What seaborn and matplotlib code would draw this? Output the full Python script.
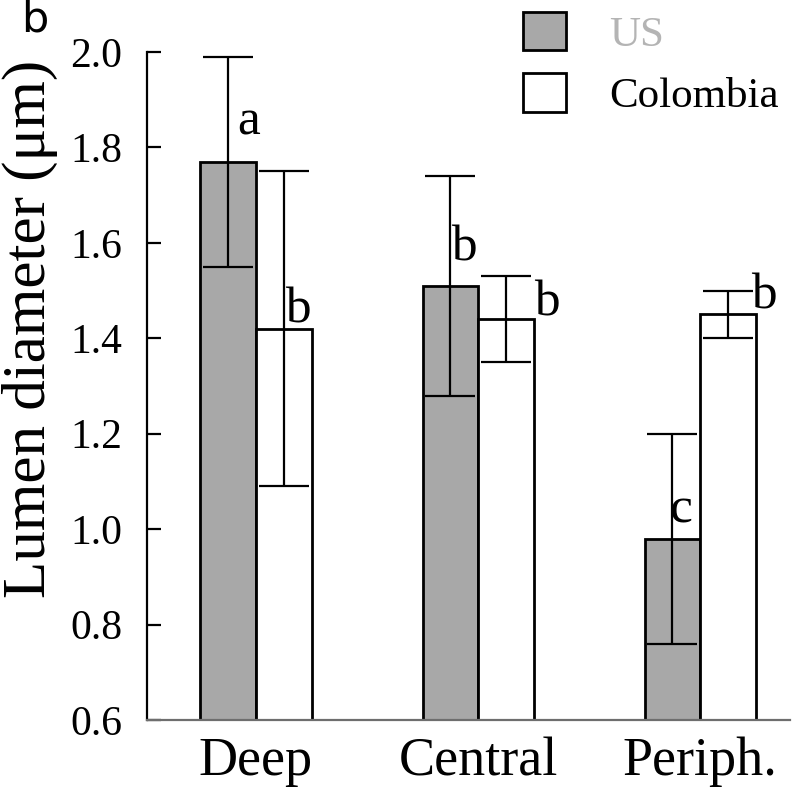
import numpy as np
import pandas as pd
import seaborn as sns
import matplotlib.pyplot as plt
from matplotlib.patches import Patch

# data
regions = ["Deep", "Central", "Periph."]
countries = ["US", "Colombia"]
us_mean = [1.77, 1.51, 0.98]
us_err = [0.22, 0.23, 0.22]
col_mean = [1.42, 1.44, 1.45]
col_err = [0.33, 0.09, 0.05]
letters_us = ["a", "b", "c"]
letters_col = ["b", "b", "b"]
yticks = [0.6, 0.8, 1.0, 1.2, 1.4, 1.6, 1.8, 2.0]

SERIF = "Liberation Serif"
GRAY = "#a8a8a8"

df = pd.DataFrame({
    "region": regions * 2,
    "country": ["US"] * 3 + ["Colombia"] * 3,
    "mean": us_mean + col_mean,
    "err": us_err + col_err,
})

sns.set_style("ticks")
plt.rcParams["font.family"] = [SERIF, "DejaVu Serif"]
plt.rcParams["text.color"] = "black"
plt.rcParams["axes.labelcolor"] = "black"
plt.rcParams["xtick.color"] = "black"
plt.rcParams["ytick.color"] = "black"

fig = plt.figure(figsize=(8.0, 7.97), dpi=100)
ax = fig.add_axes([0.184, 0.0966, 0.8035, 0.8382])

sns.barplot(
    data=df, x="region", y="mean", hue="country",
    order=regions, hue_order=countries,
    palette={"US": GRAY, "Colombia": "white"},
    width=0.5, edgecolor="black", linewidth=2.0,
    errorbar=None, legend=False, ax=ax,
)

# error bars at the bar centres seaborn placed
bars = [p for p in ax.patches if p.get_width() > 0]
bars = sorted(bars, key=lambda p: p.get_x())
for p in bars:
    xc = p.get_x() + p.get_width() / 2
    h = p.get_height()
    row = df[np.isclose(df["mean"], h)].iloc[0]
    ax.errorbar(xc, h, yerr=row["err"], fmt="none", ecolor="black",
                elinewidth=1.6, capsize=18, capthick=1.6, zorder=5)

# significance letters
letter_pos_us = [(-0.085, 1.826), (0.88, 1.563), (1.866, 1.014)]
letter_pos_col = [(0.13, 1.433), (1.252, 1.448), (2.23, 1.463)]
for (x, y), t in zip(letter_pos_us + letter_pos_col, letters_us + letters_col):
    ax.text(x, y, t, fontsize=37, family=SERIF, ha="left", va="baseline")

ax.set_ylim(0.6, 2.0)
ax.set_xlim(-0.49, 2.405)
ax.set_yticks(yticks)
ax.set_yticklabels([f"{v:.1f}" for v in yticks], fontsize=30, family=SERIF)
ax.set_xticks(range(len(regions)))
ax.set_xticklabels(regions, fontsize=39, family=SERIF)
ax.tick_params(axis="y", direction="in", length=10, width=1.6, pad=18)
ax.tick_params(axis="x", length=0, pad=12)

ax.set_xlabel("")
ax.set_ylabel("Lumen diameter (μm)", fontsize=44, family=SERIF)
ax.yaxis.set_label_coords(-0.138, 0.585)

sns.despine(ax=ax)
ax.spines["left"].set_linewidth(1.6)
ax.spines["left"].set_color("black")
ax.spines["bottom"].set_linewidth(1.6)
ax.spines["bottom"].set_color("#6e6e6e")

handles = [Patch(facecolor=GRAY, edgecolor="black", linewidth=2.0),
           Patch(facecolor="white", edgecolor="black", linewidth=2.0)]
leg = fig.legend(handles, countries, loc="upper left",
                 bbox_to_anchor=(0.654, 0.985), frameon=False,
                 prop={"family": SERIF, "size": 31},
                 handlelength=1.0, handleheight=1.0,
                 handletextpad=1.0, labelspacing=0.42, borderpad=0,
                 borderaxespad=0)
leg.get_texts()[0].set_color("#b4b4b4")

fig.text(0.026, 0.96, "b", fontsize=31, family="DejaVu Sans")

fig.savefig("out.png", dpi=100)
